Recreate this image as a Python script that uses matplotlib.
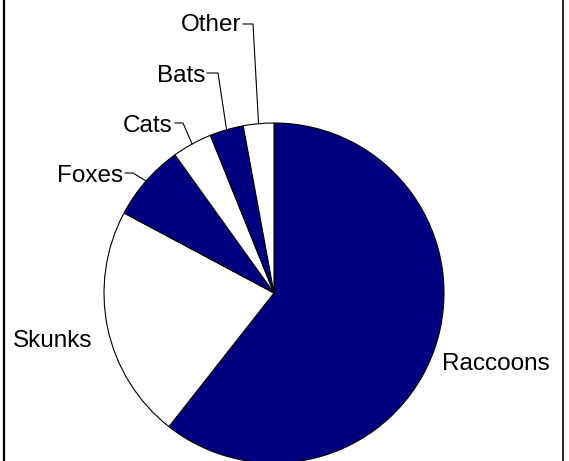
import matplotlib
import matplotlib.pyplot as plt
import numpy as np

matplotlib.use("Agg")
plt.rcParams["font.family"] = ["Liberation Sans", "DejaVu Sans"]

animals = ["Raccoons", "Skunks", "Foxes", "Cats", "Bats", "Other"]
shares = [60.6, 22.2, 7.3, 3.8, 3.2, 2.9]
slice_colors = ["#000080", "#ffffff", "#000080", "#ffffff", "#000080", "#ffffff"]

W, H = 569, 461
fig = plt.figure(figsize=(W / 100, H / 100), dpi=100)
ax = fig.add_axes([0, 0, 1, 1])

cx, cy, r = 274, H - 293, 170
wedges, _ = ax.pie(
    shares,
    colors=slice_colors,
    startangle=90,
    counterclock=False,
    center=(cx, cy),
    radius=r,
    frame=True,
    wedgeprops=dict(edgecolor="black", linewidth=0.8),
)
ax.set_xlim(0, W)
ax.set_ylim(0, H)
ax.axis("off")

fs = 17.5
# label placement (image pixel coords: text right end, baseline, leader y, elbow x)
leader_labels = {
    "Other": (241, 31, 24, 253),
    "Bats": (205, 82, 73, 218),
    "Cats": (173, 132, 123, 183),
    "Foxes": (123, 182, 173, 133),
}
for w, name in zip(wedges, animals):
    if name in leader_labels:
        xr, yb, yl, xe = leader_labels[name]
        mid = np.deg2rad((w.theta1 + w.theta2) / 2)
        px, py = cx + r * np.cos(mid), cy + r * np.sin(mid)
        ax.text(xr, H - yb, name, ha="right", va="baseline", fontsize=fs)
        ax.plot([xr + 2, xe, px], [H - yl, H - yl, py], color="black", lw=0.8)

ax.text(13, H - 347, "Skunks", ha="left", va="baseline", fontsize=fs)
ax.text(442, H - 370, "Raccoons", ha="left", va="baseline", fontsize=fs)

# side borders
ax.plot([4, 4], [0, H], color="black", lw=1.6)
ax.plot([563.5, 563.5], [0, H], color="black", lw=1.2)

fig.savefig("out.png", dpi=100)
